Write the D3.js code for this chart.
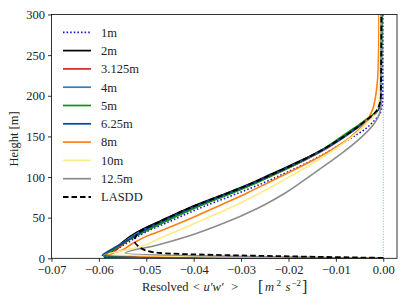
<!DOCTYPE html>
<html>
<head>
<meta charset="utf-8">
<script src="https://cdn.jsdelivr.net/npm/d3@7"></script>
<style>
  body { margin: 0; background: #fff; }
  text { font-family: "Liberation Serif", "DejaVu Serif", serif; }
</style>
</head>
<body>
<div id="container"></div>
<script>
/**
 * CONSTANTS
 * */
const w = 407
const h = 305
const m = { top: 14.5, bottom: 46.7, left: 51.5, right: 10 }

/**
 * DATA  ([u'w', height] pairs)
 * */
const labels = ["1m", "2m", "3.125m", "4m", "5m", "6.25m", "8m", "10m", "12.5m", "LASDD"]
const colors = ["#1010d8", "#000000", "#d62728", "#2f7fc1", "#109010", "#0b4592", "#ff7f0e", "#fdeb8c", "#8c8c8c", "#000000"]

const res1m = [[0,0],[-0.0590,0.5],[-0.0578,4],[-0.0560,12],[-0.0537,20],[-0.0502,32],[-0.0448,46],[-0.0386,62],[-0.0320,77],[-0.0256,92],[-0.0210,104],[-0.0152,120],[-0.0105,135],[-0.0068,148],[-0.0036,160],[-0.0018,170],[-0.0007,178],[-0.0003,186],[-0.0001,200],[-0.0001,300]]
const res2m = [[0,0],[-0.0588,1],[-0.0580,5],[-0.0565,12],[-0.0550,20],[-0.0520,32],[-0.0470,46],[-0.0410,62],[-0.0345,77],[-0.0280,92],[-0.0235,104],[-0.0175,120],[-0.0125,135],[-0.0088,148],[-0.0058,160],[-0.0035,170],[-0.0018,178],[-0.0009,186],[-0.0005,200],[-0.0004,240],[-0.0004,300]]
const res3m = [[0,0],[-0.0585,1.6],[-0.0575,4.7],[-0.0562,11],[-0.0543,20],[-0.0511,32],[-0.0461,46],[-0.0401,62],[-0.0336,77],[-0.0272,92],[-0.0227,104],[-0.0168,120],[-0.0120,135],[-0.0085,148],[-0.0056,160],[-0.0033,170],[-0.0017,178],[-0.0008,186],[-0.0005,200],[-0.0004,300]]
const res4m = [[0,0],[-0.0590,2],[-0.0582,6],[-0.0568,12],[-0.0547,20],[-0.0515,32],[-0.0464,46],[-0.0404,62],[-0.0339,77],[-0.0275,92],[-0.0229,104],[-0.0170,120],[-0.0121,135],[-0.0086,148],[-0.0056,160],[-0.0033,170],[-0.0017,178],[-0.0008,186],[-0.0005,200],[-0.0004,300]]
const res5m = [[0,0],[-0.0588,2.5],[-0.0576,7.5],[-0.0558,15],[-0.0538,22],[-0.0506,32],[-0.0457,46],[-0.0397,62],[-0.0333,77],[-0.0270,92],[-0.0226,104],[-0.0170,120],[-0.0125,135],[-0.0092,148],[-0.0062,160],[-0.0038,170],[-0.0019,178],[-0.0009,186],[-0.0005,200],[-0.0003,300]]
const res6m = [[0,0],[-0.0593,3.1],[-0.0578,9.4],[-0.0560,15.6],[-0.0540,21.9],[-0.0515,31],[-0.0466,46],[-0.0406,62],[-0.0341,77],[-0.0277,92],[-0.0231,104],[-0.0172,120],[-0.0123,135],[-0.0087,148],[-0.0057,160],[-0.0034,170],[-0.0017,178],[-0.0008,186],[-0.0005,200],[-0.0004,300]]
const res8m = [[0,0],[-0.0585,4],[-0.0560,8],[-0.0530,18],[-0.0500,27],[-0.0460,36],[-0.0414,47],[-0.0345,65],[-0.0285,81],[-0.0240,94],[-0.0198,106],[-0.0150,120],[-0.0105,135],[-0.0072,148],[-0.0049,160],[-0.0034,170],[-0.0023,182],[-0.0016,200],[-0.0012,220],[-0.0010,250],[-0.0009,300]]
const res10m = [[0,0],[-0.0580,5],[-0.0545,10],[-0.0515,14],[-0.0470,25],[-0.0405,41],[-0.0350,55],[-0.0295,70],[-0.0248,84],[-0.0205,98],[-0.0160,113],[-0.0118,128],[-0.0083,142],[-0.0055,155],[-0.0033,167],[-0.0018,177],[-0.0011,188],[-0.0008,200],[-0.0007,300]]
const res12m = [[0,0],[-0.0544,6.25],[-0.0478,16],[-0.0407,28],[-0.0337,43],[-0.0267,61],[-0.0205,81],[-0.0148,104],[-0.0088,129],[-0.0050,147],[-0.0020,165],[-0.0008,178],[-0.0004,195],[-0.0004,300]]
const lasdd = [[0,0.5],[-0.0470,6.5],[-0.0500,9.5],[-0.0518,15.5],[-0.0525,22],[-0.0515,32],[-0.0468,46],[-0.0408,62],[-0.0342,77],[-0.0278,92],[-0.0232,104],[-0.0173,120],[-0.0124,135],[-0.0088,148],[-0.0058,160],[-0.0036,170],[-0.0019,178],[-0.0010,186],[-0.0005,200],[-0.0004,300]]

const profiles = [res1m, res2m, res3m, res4m, res5m, res6m, res8m, res10m, res12m, lasdd]

const xTicks = [-0.07, -0.06, -0.05, -0.04, -0.03, -0.02, -0.01, 0]
const yTicks = [0, 50, 100, 150, 200, 250, 300]

init()

function init() {
    const xScale = d3.scaleLinear()
        .domain([-0.07, 0.0029])
        .range([m.left, w - m.right])

    const yScale = d3.scaleLinear()
        .domain([0, 300])
        .range([h - m.bottom, m.top])

    const svg = d3.select("#container")
        .append("svg")
        .attr("width", w)
        .attr("height", h)

    svg.append("clipPath").attr("id", "plotclip")
        .append("rect")
        .attr("x", m.left).attr("y", m.top)
        .attr("width", w - m.right - m.left)
        .attr("height", h - m.bottom - m.top)

    // zero reference line
    svg.append("line")
        .attr("x1", xScale(0)).attr("x2", xScale(0))
        .attr("y1", yScale(0)).attr("y2", yScale(300))
        .attr("stroke", "#3f8ccc")
        .attr("stroke-width", 0.7)
        .attr("stroke-dasharray", "1,1.6")

    const line = d3.line()
        .x(d => xScale(d[0]))
        .y(d => yScale(d[1]))
        .curve(d3.curveMonotoneY)

    const plot = svg.append("g").attr("clip-path", "url(#plotclip)")

    profiles.forEach((p, i) => {
        plot.append("path")
            .attr("d", line(p))
            .attr("fill", "none")
            .attr("stroke", colors[i])
            .attr("stroke-width", i == 9 ? 1.8 : 1.6)
            .attr("stroke-dasharray", i == 0 ? "1.5,2.1" : (i == 9 ? "5.5,3" : null))
    })

    // axes
    const xAxis = d3.axisBottom(xScale)
        .tickValues(xTicks)
        .tickSize(3.5)
        .tickPadding(3.5)
        .tickFormat(d => d == 0 ? "0.00" : "\u2212" + Math.abs(d).toFixed(2))

    const yAxis = d3.axisLeft(yScale)
        .tickValues(yTicks)
        .tickSize(3.5)
        .tickPadding(3)

    const gx = svg.append("g")
        .attr("transform", `translate(0,${h - m.bottom})`)
        .call(xAxis)
    const gy = svg.append("g")
        .attr("transform", `translate(${m.left},0)`)
        .call(yAxis)

    ;[gx, gy].forEach(g => {
        g.select(".domain").remove()
        g.selectAll(".tick line").attr("stroke", "#000").attr("stroke-width", 0.8)
        g.selectAll(".tick text")
            .attr("fill", "#222")
            .style("font-family", '"Liberation Serif", serif')
            .style("font-size", "12.5px")
    })

    // frame
    svg.append("rect")
        .attr("x", m.left).attr("y", m.top)
        .attr("width", w - m.right - m.left)
        .attr("height", h - m.bottom - m.top)
        .attr("fill", "none")
        .attr("stroke", "#000")
        .attr("stroke-width", 0.8)

    // legend
    const legend = svg.append("g")
    labels.forEach((lab, i) => {
        const ly = 32.3 + i * 18.3
        legend.append("line")
            .attr("x1", 63).attr("x2", 91)
            .attr("y1", ly).attr("y2", ly)
            .attr("stroke", colors[i])
            .attr("stroke-width", i == 9 ? 1.9 : 1.7)
            .attr("stroke-dasharray", i == 0 ? "1.5,2.1" : (i == 9 ? "5.5,3" : null))
        legend.append("text")
            .attr("x", 101).attr("y", ly + 4.3)
            .attr("fill", "#222")
            .style("font-size", "12.5px")
            .text(lab)
    })

    // axis labels
    svg.append("text")
        .attr("transform", "translate(17.5,139) rotate(-90)")
        .attr("text-anchor", "middle")
        .attr("fill", "#222")
        .style("font-size", "12.5px")
        .text("Height [m]")

    const xl = svg.append("text")
        .attr("y", 291)
        .attr("fill", "#222")
        .style("font-size", "12.5px")
    xl.append("tspan").attr("x", 142).text("Resolved")
    xl.append("tspan").attr("x", 193).text("<")
    xl.append("tspan").attr("x", 203.5).style("font-style", "italic").text("u\u2032w\u2032")
    xl.append("tspan").attr("x", 231).text(">")
    xl.append("tspan").attr("x", 258).attr("dy", 1).style("font-size", "16px").text("[")
    xl.append("tspan").attr("x", 265).attr("dy", -1).style("font-style", "italic").text("m")
    xl.append("tspan").attr("x", 276.5).attr("dy", -5).style("font-size", "9px").text("2")
    xl.append("tspan").attr("x", 285.5).attr("dy", 5).style("font-style", "italic").text("s")
    xl.append("tspan").attr("x", 291.5).attr("dy", -5).style("font-size", "9px").text("\u22122")
    xl.append("tspan").attr("x", 302).attr("dy", 6).style("font-size", "16px").text("]")
}
</script>
</body>
</html>
